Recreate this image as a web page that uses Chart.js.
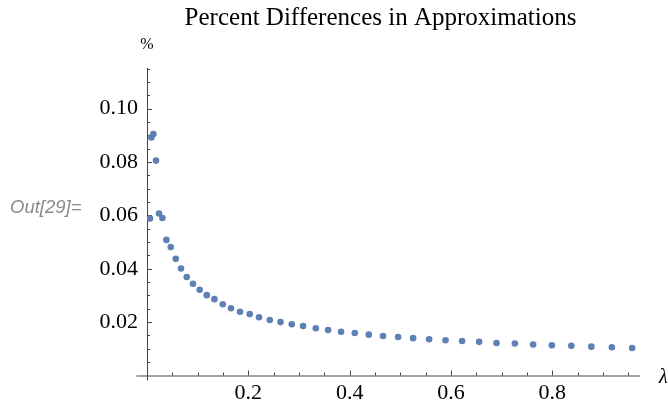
<!DOCTYPE html>
<html lang="en">
<head>
<meta charset="UTF-8">
<meta name="viewport" content="width=device-width, initial-scale=1.0">
<title>Percent Differences in Approximations</title>
<script src="https://cdn.jsdelivr.net/npm/chart.js"></script>
<style>
    body { margin: 0; background: #fff; }
    .chart-wrap { position: relative; width: 668px; height: 402px; }
</style>
</head>
<body>
<div class="chart-wrap"><canvas id="diffChart"></canvas></div>

<script>
    // lambda values and percent differences
    const lambdas = [0.0059, 0.0087, 0.0126, 0.0178, 0.0237, 0.0304, 0.0383, 0.0468, 0.0567, 0.0671,
                     0.0784, 0.0908, 0.1040, 0.1179, 0.1331, 0.1495, 0.1658, 0.1836, 0.2028, 0.2211,
                     0.2423, 0.2634, 0.2857, 0.3080, 0.3331, 0.3574, 0.3830, 0.4101, 0.4377, 0.4659,
                     0.4956, 0.5252, 0.5568, 0.5891, 0.6219, 0.6555, 0.6898, 0.7260, 0.7621, 0.7990,
                     0.8375, 0.8770, 0.9175, 0.9575];
    const diffs = [0.0588, 0.0892, 0.0905, 0.0805, 0.0607, 0.0590, 0.0508, 0.0481, 0.0437, 0.0401,
                   0.0369, 0.0344, 0.0321, 0.0301, 0.0286, 0.0267, 0.0252, 0.0239, 0.0230, 0.0218,
                   0.0208, 0.0200, 0.0192, 0.0185, 0.0177, 0.0170, 0.0164, 0.0159, 0.0153, 0.0148,
                   0.0144, 0.0140, 0.0136, 0.0132, 0.0129, 0.0126, 0.0122, 0.0120, 0.0116, 0.0113,
                   0.0111, 0.0108, 0.0106, 0.0103];
    const xTicks = [0.2, 0.4, 0.6, 0.8];
    const yTicks = [0.02, 0.04, 0.06, 0.08, 0.10];

    const serif = '"Liberation Serif", "Times New Roman", serif';
    const axisColor = '#444';

    // Mathematica style axes: lines through the origin with inward ticks
    const axesPlugin = {
        id: 'axes',
        beforeDatasetsDraw(chart) {
            const { ctx, chartArea } = chart;
            const xs = chart.scales.x, ys = chart.scales.y;
            const x0 = xs.getPixelForValue(0), y0 = ys.getPixelForValue(0);
            ctx.save();
            ctx.strokeStyle = axisColor;
            ctx.lineWidth = 1;
            ctx.beginPath();
            ctx.moveTo(xs.getPixelForValue(-0.021), y0 + 0.5);
            ctx.lineTo(chartArea.right, y0 + 0.5);
            ctx.moveTo(x0 + 0.5, ys.getPixelForValue(-0.0018));
            ctx.lineTo(x0 + 0.5, chartArea.top);
            ctx.stroke();

            ctx.beginPath();
            for (let i = 1; i * 0.05 < xs.max; i++) {
                const v = i * 0.05;
                const len = xTicks.some(t => Math.abs(t - v) < 1e-9) ? 5 : 3;
                const px = Math.round(xs.getPixelForValue(v)) + 0.5;
                ctx.moveTo(px, y0);
                ctx.lineTo(px, y0 - len);
            }
            for (let i = 1; i * 0.005 < ys.max; i++) {
                const v = i * 0.005;
                const len = yTicks.some(t => Math.abs(t - v) < 1e-9) ? 5 : 3;
                const py = Math.round(ys.getPixelForValue(v)) + 0.5;
                ctx.moveTo(x0, py);
                ctx.lineTo(x0 + len, py);
            }
            ctx.stroke();
            ctx.restore();
        },
        afterDraw(chart) {
            const { ctx, chartArea } = chart;
            const xs = chart.scales.x, ys = chart.scales.y;
            ctx.save();
            ctx.fillStyle = '#000';
            ctx.textBaseline = 'middle';
            ctx.textAlign = 'center';
            ctx.font = '25px ' + serif;
            ctx.fillText('Percent Differences in Approximations', 380.5, 18);
            ctx.font = '16px ' + serif;
            ctx.fillText('%', xs.getPixelForValue(0), chartArea.top - 23);
            ctx.textAlign = 'left';
            ctx.font = 'italic 20px ' + serif;
            ctx.fillText('λ', chartArea.right + 19, ys.getPixelForValue(0) + 2);
            ctx.fillStyle = '#8a8a8a';
            ctx.font = 'italic 18.5px "Liberation Sans", Arial, sans-serif';
            ctx.fillText('Out[29]=', 10, 208);
            ctx.restore();
        }
    };

    new Chart(document.getElementById('diffChart'), {
        type: 'scatter',
        data: {
            datasets: [{
                label: 'Percent difference',
                data: lambdas.map((l, i) => ({ x: l, y: diffs[i] })),
                backgroundColor: '#5E81B5',
                borderWidth: 0,
                pointRadius: 3.3,
                pointHoverRadius: 3.3
            }]
        },
        options: {
            responsive: true,
            maintainAspectRatio: false,
            animation: false,
            layout: { padding: { left: 60, right: 28, top: 68, bottom: 0 } },
            plugins: {
                legend: { display: false },
                tooltip: { enabled: false },
                title: { display: false }
            },
            scales: {
                x: {
                    type: 'linear',
                    min: 0,
                    max: 0.973,
                    grid: { display: false, drawTicks: false },
                    border: { display: false },
                    afterBuildTicks: s => { s.ticks = xTicks.map(v => ({ value: v })); },
                    afterFit: s => { s.height = 26.5; },
                    ticks: {
                        color: '#000',
                        padding: 5,
                        maxRotation: 0,
                        font: { family: serif, size: 22 },
                        callback: v => v.toFixed(1)
                    }
                },
                y: {
                    min: 0,
                    max: 0.1152,
                    grid: { display: false, drawTicks: false },
                    border: { display: false },
                    afterBuildTicks: s => { s.ticks = yTicks.map(v => ({ value: v })); },
                    afterFit: s => { s.width = 87; },
                    ticks: {
                        color: '#000',
                        padding: 9,
                        font: { family: serif, size: 22 },
                        callback: v => v.toFixed(2)
                    }
                }
            }
        },
        plugins: [axesPlugin]
    });
</script>
</body>
</html>
